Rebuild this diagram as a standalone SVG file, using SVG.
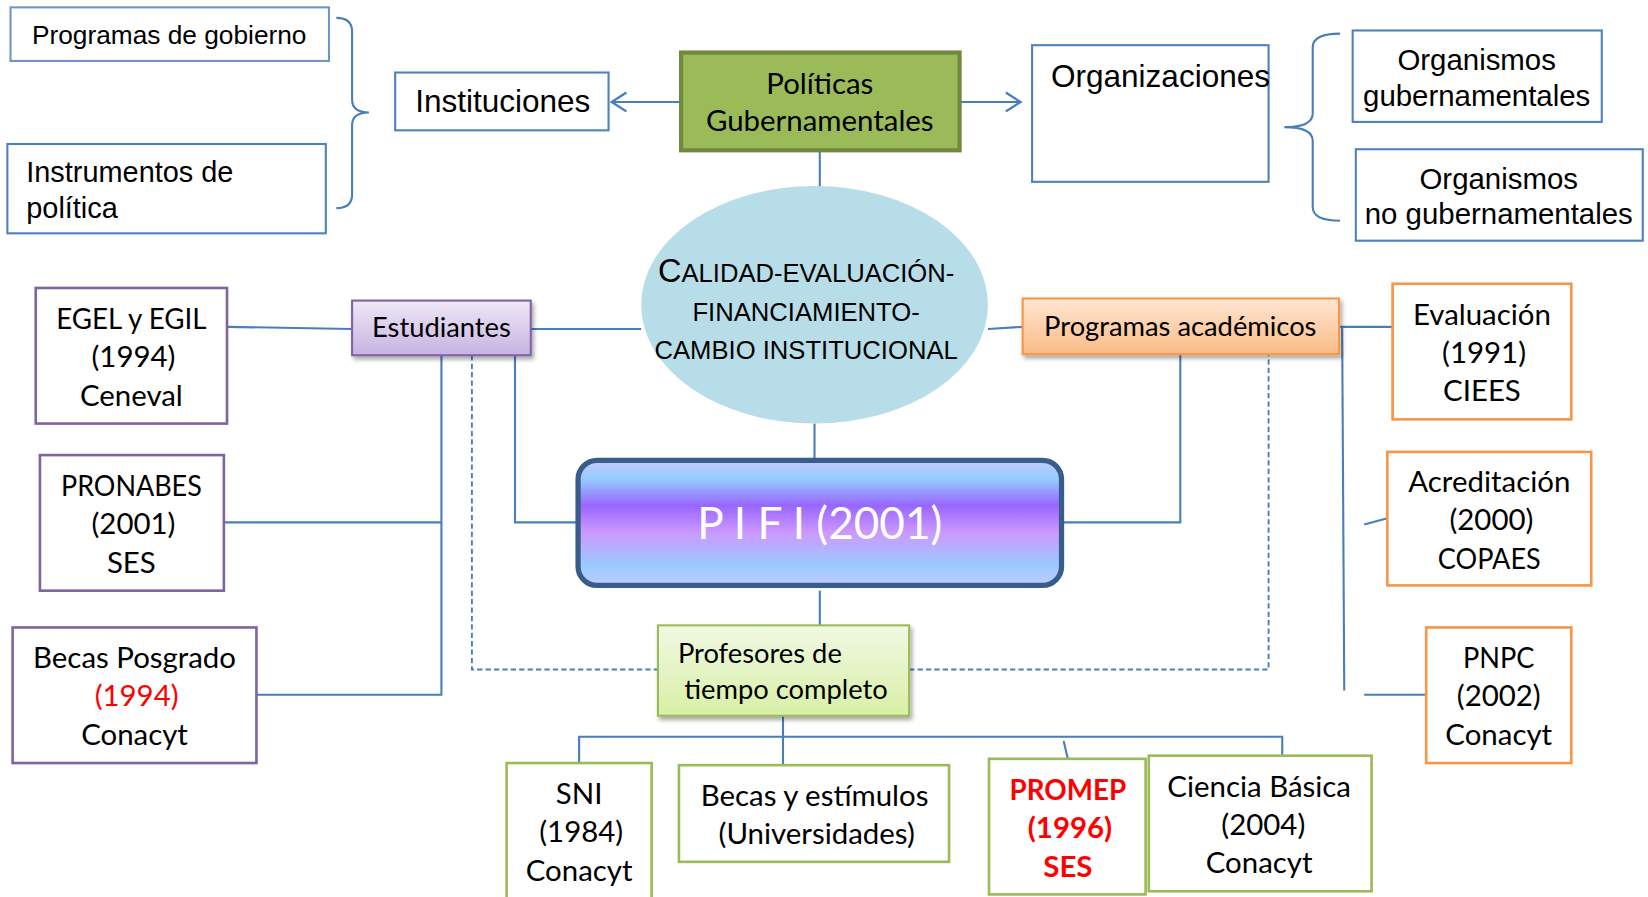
<svg xmlns="http://www.w3.org/2000/svg" width="1648" height="897" viewBox="0 0 1648 897">
<defs>
<style>
.ar{font-family:"Liberation Sans",Arial,sans-serif;fill:#000}
.cb{font-family:Lato,"Open Sans",sans-serif;fill:#000}
.c{text-anchor:middle}
.bx{fill:#fff;stroke:#4F81BD;stroke-width:2}
.pu{fill:#fff;stroke:#8064A2;stroke-width:2.5}
.or{fill:#fff;stroke:#F79646;stroke-width:2.5}
.gr{fill:#fff;stroke:#9BBB59;stroke-width:2.5}
.ln{fill:none;stroke:#4A7EBB;stroke-width:2}
.ds{fill:none;stroke:#4A7EBB;stroke-width:1.8;stroke-dasharray:5 3}
.t28{font-size:28px}
.red{fill:#FF0000}
</style>
<linearGradient id="gEst" x1="0" y1="0" x2="0" y2="1"><stop offset="0" stop-color="#EEE8F6"/><stop offset="1" stop-color="#C6B3E1"/></linearGradient>
<linearGradient id="gProg" x1="0" y1="0" x2="0" y2="1"><stop offset="0" stop-color="#FFE6D3"/><stop offset="1" stop-color="#FABB86"/></linearGradient>
<linearGradient id="gProf" x1="0" y1="0" x2="0" y2="1"><stop offset="0" stop-color="#F1F8E4"/><stop offset="1" stop-color="#D8F0A6"/></linearGradient>
<linearGradient id="gPifi" x1="0" y1="0" x2="0" y2="1">
<stop offset="0" stop-color="#C4CAFF"/><stop offset="0.15" stop-color="#93CCFF"/><stop offset="0.36" stop-color="#9966FF"/><stop offset="0.58" stop-color="#CC99FF"/><stop offset="0.85" stop-color="#99CCFF"/><stop offset="1" stop-color="#C4CAFF"/>
</linearGradient>
<filter id="sh" x="-10%" y="-10%" width="130%" height="140%"><feDropShadow dx="2" dy="3" stdDeviation="2" flood-color="#000" flood-opacity="0.35"/></filter>
<marker id="arr" viewBox="0 0 20 20" refX="17" refY="10" markerWidth="20" markerHeight="20" markerUnits="userSpaceOnUse" orient="auto">
<path d="M3,1 L17,10 L3,19" fill="none" stroke="#4A7EBB" stroke-width="2.2"/>
</marker>
</defs>
<rect width="1648" height="897" fill="#fff"/>
<g transform="scale(1.05102)">
<g id="connectors">
<line class="ln" x1="647" y1="97" x2="582" y2="97" marker-end="url(#arr)"/>
<line class="ln" x1="914" y1="97" x2="971" y2="97" marker-end="url(#arr)"/>
<path class="ln" d="M320,17 Q335,17 335,30 L335,95 Q335,107 351,107 Q335,107 335,119 L335,185 Q335,198 320,198"/>
<path class="ln" d="M1275,32 Q1249,32 1249,45 L1249,108 Q1249,121 1222,121 Q1249,121 1249,134 L1249,197 Q1249,210 1275,210"/>
<line class="ln" x1="780" y1="144" x2="780" y2="178"/>
<line class="ln" x1="216" y1="311" x2="335" y2="313"/>
<line class="ln" x1="505" y1="313" x2="610" y2="313"/>
<path class="ln" d="M420,338 V661 H244 M213,497 H420"/>
<path class="ln" d="M490,338 V497 H549"/>
<path class="ds" d="M449,338 V637 H626 M865,637 H1207 V338"/>
<line class="ln" x1="775" y1="403" x2="775" y2="438"/>
<line class="ln" x1="940" y1="313" x2="973" y2="311"/>
<path class="ln" d="M1123,337 V497 H1011"/>
<path class="ln" d="M1275,311 H1325"/>
<line class="ln" x1="1277" y1="311" x2="1279" y2="657"/>
<line class="ln" x1="1298" y1="499" x2="1320" y2="493"/>
<line class="ln" x1="1298" y1="661" x2="1357" y2="661"/>
<line class="ln" x1="780" y1="562" x2="780" y2="595"/>
<line class="ln" x1="745" y1="681" x2="745" y2="728"/>
<path class="ln" d="M551,726 V701 H1220 V719"/>
<line class="ln" x1="1012" y1="705" x2="1016" y2="722"/>
</g>
<g id="programas-gobierno"><rect class="bx" x="10" y="7" width="303" height="51" stroke-width="1.5" style="stroke:#6F95C8"/><text class="ar c" x="161" y="42" font-size="25">Programas de gobierno</text></g>
<g id="instrumentos"><rect class="bx" x="7" y="137" width="303" height="85"/><text class="ar" x="25" y="173" font-size="27.5">Instrumentos de</text><text class="ar" x="25" y="207" font-size="27.5">política</text></g>
<g id="instituciones"><rect class="bx" x="376" y="69" width="203" height="55"/><text class="ar" x="395" y="107" font-size="30">Instituciones</text></g>
<g id="politicas"><rect x="648" y="50" width="265" height="93" fill="#9BBB59" stroke="#71893F" stroke-width="4"/><text class="cb c" x="780" y="89" font-size="28">Políticas</text><text class="cb c" x="780" y="125" font-size="28">Gubernamentales</text></g>
<g id="organizaciones"><rect class="bx" x="982" y="43" width="225" height="130"/><text class="ar" x="1000" y="83" font-size="30">Organizaciones</text></g>
<g id="org-gub"><rect class="bx" x="1287" y="29" width="237" height="87"/><text class="ar c" x="1405" y="67" font-size="28">Organismos</text><text class="ar c" x="1405" y="101" font-size="28">gubernamentales</text></g>
<g id="org-nogub"><rect class="bx" x="1290" y="142" width="273" height="87"/><text class="ar c" x="1426" y="180" font-size="28">Organismos</text><text class="ar c" x="1426" y="213" font-size="28">no gubernamentales</text></g>
<g id="calidad"><ellipse cx="775" cy="290" rx="165" ry="113" fill="#B7DEE8"/>
<text class="ar c" x="767" y="268" font-size="24.4"><tspan font-size="31">C</tspan>ALIDAD-EVALUACIÓN-</text>
<text class="ar c" x="767" y="305" font-size="24.4">FINANCIAMIENTO-</text>
<text class="ar c" x="767" y="342" font-size="24.4">CAMBIO INSTITUCIONAL</text></g>
<g id="pifi"><rect x="550" y="438" width="460" height="119" rx="18" fill="url(#gPifi)" stroke="#385D8A" stroke-width="5"/><text class="cb c" x="780" y="513" font-size="42" style="fill:#fff">P I F I (2001)</text></g>
<g id="estudiantes"><rect x="335" y="286" width="170" height="52" fill="url(#gEst)" stroke="#8064A2" stroke-width="2" filter="url(#sh)"/><text class="cb c" x="420" y="321" font-size="26">Estudiantes</text></g>
<g id="programas-academicos"><rect x="973" y="284" width="301" height="53" fill="url(#gProg)" stroke="#F79646" stroke-width="2" filter="url(#sh)"/><text class="cb c" x="1123" y="320" font-size="26">Programas académicos</text></g>
<g id="profesores"><rect x="626" y="595" width="239" height="86" fill="url(#gProf)" stroke="#9BBB59" stroke-width="2" filter="url(#sh)"/><text class="cb" x="645" y="631" font-size="26">Profesores de</text><text class="cb" x="651" y="665" font-size="26">tiempo completo</text></g>
<g id="egel"><rect class="pu" x="34" y="274" width="182" height="129"/><text class="cb c t28" x="125" y="313" textLength="143" lengthAdjust="spacingAndGlyphs">EGEL y EGIL</text><text class="cb c t28" x="127" y="349">(1994)</text><text class="cb c t28" x="125" y="386">Ceneval</text></g>
<g id="pronabes"><rect class="pu" x="38" y="433" width="175" height="129"/><text class="cb c t28" x="125" y="472" textLength="134" lengthAdjust="spacingAndGlyphs">PRONABES</text><text class="cb c t28" x="127" y="508">(2001)</text><text class="cb c t28" x="125" y="545">SES</text></g>
<g id="becas-posgrado"><rect class="pu" x="12" y="597" width="232" height="129"/><text class="cb c t28" x="128" y="636">Becas Posgrado</text><text class="cb c t28 red" x="130" y="672">(1994)</text><text class="cb c t28" x="128" y="709">Conacyt</text></g>
<g id="evaluacion"><rect class="or" x="1325" y="270" width="170" height="129"/><text class="cb c t28" x="1410" y="309">Evaluación</text><text class="cb c t28" x="1412" y="345">(1991)</text><text class="cb c t28" x="1410" y="382" textLength="74" lengthAdjust="spacingAndGlyphs">CIEES</text></g>
<g id="acreditacion"><rect class="or" x="1320" y="430" width="194" height="127"/><text class="cb c t28" x="1417" y="468">Acreditación</text><text class="cb c t28" x="1419" y="504">(2000)</text><text class="cb c t28" x="1417" y="541" textLength="98" lengthAdjust="spacingAndGlyphs">COPAES</text></g>
<g id="pnpc"><rect class="or" x="1357" y="597" width="138" height="129"/><text class="cb c t28" x="1426" y="636" textLength="68" lengthAdjust="spacingAndGlyphs">PNPC</text><text class="cb c t28" x="1426" y="672">(2002)</text><text class="cb c t28" x="1426" y="709">Conacyt</text></g>
<g id="sni"><rect class="gr" x="482" y="726" width="138" height="140"/><text class="cb c t28" x="551" y="765">SNI</text><text class="cb c t28" x="553" y="801">(1984)</text><text class="cb c t28" x="551" y="838">Conacyt</text></g>
<g id="becas-estimulos"><rect class="gr" x="646" y="728" width="257" height="92"/><text class="cb c t28" x="775" y="767">Becas y estímulos</text><text class="cb c t28" x="777" y="803">(Universidades)</text></g>
<g id="promep"><rect class="gr" x="941" y="722" width="149" height="129"/><text class="cb c t28 red" x="1016" y="761" font-weight="bold" textLength="111" lengthAdjust="spacingAndGlyphs">PROMEP</text><text class="cb c t28 red" x="1018" y="797" font-weight="bold">(1996)</text><text class="cb c t28 red" x="1016" y="834" font-weight="bold">SES</text></g>
<g id="ciencia-basica"><rect class="gr" x="1093" y="719" width="212" height="129"/><text class="cb c t28" x="1198" y="758">Ciencia Básica</text><text class="cb c t28" x="1202" y="794">(2004)</text><text class="cb c t28" x="1198" y="831">Conacyt</text></g>
</g>
</svg>
